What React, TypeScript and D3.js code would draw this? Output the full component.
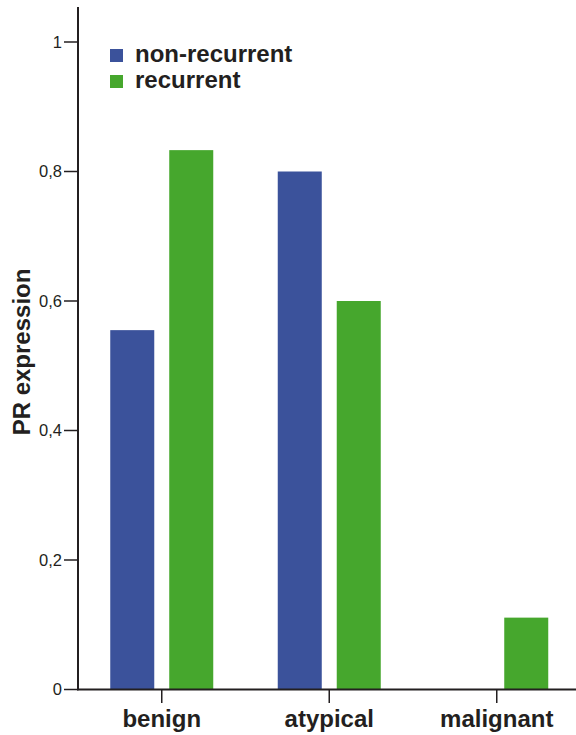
import React from "react";
import * as d3 from "d3";

const categories = ["benign", "atypical", "malignant"];
const seriesNames = ["non-recurrent", "recurrent"];
const nonRecurrent = [0.555, 0.8, 0];
const recurrent = [0.833, 0.6, 0.111];
const yTicks = [0, 0.2, 0.4, 0.6, 0.8, 1];
const yTickLabels = ["0", "0,2", "0,4", "0,6", "0,8", "1"];
const colors = ["#3B529B", "#46A72D"];

const W = 576;
const H = 735;
const axisX = 78;
const axisY = 689.5;

export default function App() {
  const y = d3.scaleLinear().domain([0, 1]).range([axisY, 42]);
  const x = d3.scaleBand<string>().domain(categories).range([axisX, 580.5]).padding(0);
  const inner = d3.scaleBand<string>().domain(seriesNames).range([-51.5, 51.5]).paddingInner(0.254);
  const series = [nonRecurrent, recurrent];
  const font = "Liberation Sans, Arial, Helvetica, sans-serif";
  const ink = "#231F20";

  return (
    <svg width={W} height={H} style={{ position: "absolute", left: 0, top: 0, display: "block" }} fontFamily={font}>
      <rect width={W} height={H} fill="#fff" />
      {series.map((vals, si) =>
        categories.map((c, ci) => {
          const cx = (x(c) as number) + x.bandwidth() / 2;
          const v = vals[ci];
          if (v <= 0) return null;
          return (
            <rect
              key={`${si}-${ci}`}
              x={cx + (inner(seriesNames[si]) as number)}
              y={y(v)}
              width={inner.bandwidth()}
              height={axisY - y(v)}
              fill={colors[si]}
            />
          );
        })
      )}
      {/* y axis */}
      <line x1={axisX} x2={axisX} y1={7} y2={axisY + 0.75} stroke={ink} strokeWidth={2} />
      {yTicks.map((t, i) => (
        <g key={t}>
          <line x1={64} x2={axisX} y1={y(t)} y2={y(t)} stroke={ink} strokeWidth={1.5} />
          <text x={62} y={y(t) + 5.5} textAnchor="end" fontSize={16.5} fill={ink}>
            {yTickLabels[i]}
          </text>
        </g>
      ))}
      {/* x axis */}
      <line x1={axisX - 1} x2={W} y1={axisY} y2={axisY} stroke={ink} strokeWidth={2} />
      {categories.map((c) => {
        const cx = (x(c) as number) + x.bandwidth() / 2;
        return (
          <g key={c}>
            <line x1={cx} x2={cx} y1={axisY} y2={703} stroke={ink} strokeWidth={1.5} />
            <text x={cx} y={727} textAnchor="middle" fontSize={24} fontWeight="bold" fill={ink}>
              {c}
            </text>
          </g>
        );
      })}
      {/* y label */}
      <text
        transform={`translate(30,${352}) rotate(-90)`}
        textAnchor="middle"
        fontSize={24}
        fontWeight="bold"
        fill={ink}
      >
        PR expression
      </text>
      {/* legend */}
      {seriesNames.map((s, i) => (
        <g key={s} transform={`translate(110,${49 + i * 26})`}>
          <rect width={13} height={13} fill={colors[i]} />
          <text x={25} y={13} fontSize={24} fontWeight="bold" fill={ink}>
            {s}
          </text>
        </g>
      ))}
    </svg>
  );
}
